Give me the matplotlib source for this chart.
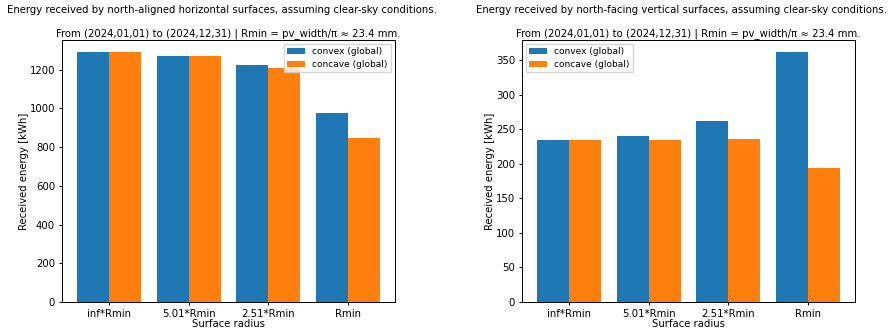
import matplotlib
matplotlib.use("Agg")
import matplotlib.pyplot as plt
import numpy as np

categories = ["inf*Rmin", "5.01*Rmin", "2.51*Rmin", "Rmin"]
horiz_convex = [1288, 1269, 1221, 976]
horiz_concave = [1288, 1269, 1207, 847]
vert_convex = [234.4, 239.7, 261.4, 361]
vert_concave = [234.4, 234.4, 235.8, 194]

title1_left = "Energy received by north-aligned horizontal surfaces, assuming clear-sky conditions."
title1_right = "Energy received by north-facing vertical surfaces, assuming clear-sky conditions."
title2 = "From (2024,01,01) to (2024,12,31) | Rmin = pv_width/\u03c0 \u2248 23.4 mm."

FS = 7.3
plt.rcParams['font.size'] = FS
plt.rcParams['axes.linewidth'] = 0.7
plt.rcParams['xtick.major.width'] = 0.7
plt.rcParams['ytick.major.width'] = 0.7
plt.rcParams['xtick.major.size'] = 2.5
plt.rcParams['ytick.major.size'] = 2.5
plt.rcParams['xtick.major.pad'] = 2.5
plt.rcParams['ytick.major.pad'] = 2.5

fig = plt.figure(figsize=(8.9, 3.29), dpi=100)
ax1 = fig.add_axes([62/890, 1-302/329, (395-62)/890, (302-40)/329])
ax2 = fig.add_axes([522/890, 1-302/329, (855-522)/890, (302-40)/329])

x = np.arange(len(categories))
w = 0.4
for ax, cv, cc, t1, loc in [(ax1, horiz_convex, horiz_concave, title1_left, "upper right"),
                             (ax2, vert_convex, vert_concave, title1_right, "upper left")]:
    ax.bar(x - w/2, cv, w, color="#1f77b4", label="convex (global)")
    ax.bar(x + w/2, cc, w, color="#ff7f0e", label="concave (global)")
    ax.set_xticks(x)
    ax.set_xticklabels(categories)
    ax.set_xlabel("Surface radius", labelpad=0)
    ax.set_ylabel("Received energy [kWh]", labelpad=0.5)
    ax.set_title(title2, fontsize=FS, pad=3)
    ax.text(0.48, 1.115, t1, transform=ax.transAxes, ha="center", va="center", fontsize=FS)
    ax.legend(loc=loc, fontsize=6.5, borderaxespad=0.4, labelspacing=0.4)

fig.savefig("out.png", dpi=100)
